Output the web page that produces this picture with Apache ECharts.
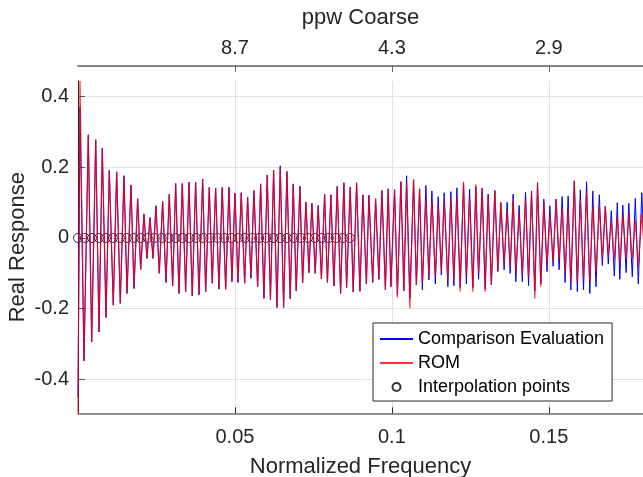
<!DOCTYPE html>
<html>
<head>
<meta charset="utf-8">
<script src="https://cdn.jsdelivr.net/npm/echarts@6/dist/echarts.min.js"></script>
<style>html,body{margin:0;padding:0;background:#fff;}#c{width:643px;height:477px;}</style>
</head>
<body>
<div id="c"></div>
<script>
// Frequencies of the extremes (peaks / troughs)
const freq = [0,0.00064,0.00191,0.00328,0.00436,0.00564,0.00669,0.00774,0.00892,0.00997,
0.01124,0.01232,0.01347,0.01465,0.01561,0.01688,0.01783,0.01901,0.01997,0.02102,
0.02197,0.02293,0.02389,0.02484,0.02589,0.02697,0.02803,0.02908,0.03016,0.03111,
0.03217,0.03322,0.03430,0.03535,0.03640,0.03748,0.03854,0.03971,0.04067,0.04182,
0.04277,0.04385,0.04490,0.04595,0.04704,0.04809,0.04904,0.05000,0.05096,0.05201,
0.05309,0.05404,0.05510,0.05605,0.05723,0.05818,0.05924,0.06029,0.06131,0.06232,
0.06338,0.06443,0.06551,0.06656,0.06761,0.06857,0.06952,0.07070,0.07156,0.07261,
0.07357,0.07452,0.07557,0.07653,0.07755,0.07857,0.07946,0.08057,0.08153,0.08258,
0.08366,0.08471,0.08557,0.08672,0.08768,0.08876,0.08981,0.09076,0.09188,0.09268,
0.09389,0.09481,0.09586,0.09682,0.09793,0.09882,0.09968,0.10086,0.10175,0.10287,
0.10382,0.10468,0.10573,0.10691,0.10780,0.10882,0.10971,0.11083,0.11178,0.11274,
0.11385,0.11475,0.11576,0.11666,0.11783,0.11879,0.11975,0.12070,0.12175,0.12283,
0.12373,0.12475,0.12580,0.12675,0.12761,0.12876,0.12971,0.13067,0.13169,0.13280,
0.13376,0.13471,0.13576,0.13672,0.13768,0.13863,0.13949,0.14054,0.14156,0.14258,
0.14354,0.14449,0.14554,0.14640,0.14745,0.14841,0.14943,0.15032,0.15137,0.15232,
0.15328,0.15424,0.15519,0.15615,0.15701,0.15812,0.15908,0.16003,0.16105,0.16201,
0.16306,0.16401,0.16503,0.16608,0.16704,0.16799,0.16895,0.16990,0.17086,0.17182,
0.17261,0.17357,0.17462,0.17548,0.17659,0.17755,0.17850,0.17962,0.18057];

// Comparison Evaluation (blue)
const comparisonVals = [-0.45,0.37,-0.348,0.292,-0.294,0.278,-0.266,0.254,-0.225,0.191,
-0.19,0.187,-0.185,0.176,-0.157,0.150,-0.143,0.111,-0.089,0.068,
-0.058,0.058,-0.058,0.091,-0.100,0.103,-0.126,0.124,-0.136,0.154,
-0.157,0.154,-0.152,0.158,-0.164,0.158,-0.161,0.167,-0.152,0.143,
-0.128,0.141,-0.145,0.143,-0.145,0.143,-0.124,0.127,-0.126,0.128,
-0.128,0.115,-0.114,0.134,-0.138,0.153,-0.171,0.178,-0.175,0.192,
-0.197,0.204,-0.197,0.188,-0.172,0.153,-0.150,0.146,-0.127,0.101,
-0.098,0.098,-0.100,0.092,-0.116,0.124,-0.126,0.122,-0.136,0.146,
-0.157,0.156,-0.140,0.144,-0.153,0.156,-0.150,0.122,-0.130,0.121,
-0.126,0.111,-0.117,0.134,-0.147,0.139,-0.138,0.137,-0.160,0.158,
-0.150,0.176,-0.170,0.164,-0.133,0.139,-0.147,0.148,-0.119,0.133,
-0.130,0.117,-0.105,0.128,-0.138,0.131,-0.135,0.142,-0.140,0.155,
-0.130,0.138,-0.140,0.145,-0.117,0.141,-0.145,0.124,-0.133,0.134,
-0.095,0.100,-0.090,0.101,-0.100,0.124,-0.124,0.092,-0.124,0.129,
-0.135,0.133,-0.150,0.157,-0.130,0.110,-0.095,0.091,-0.080,0.110,
-0.090,0.117,-0.126,0.119,-0.147,0.162,-0.152,0.136,-0.147,0.159,
-0.157,0.133,-0.138,0.122,-0.078,0.090,-0.074,0.077,-0.108,0.100,
-0.117,0.093,-0.098,0.098,-0.110,0.112,-0.130,0.128,-0.100];

// ROM (red)
const romVals = [-0.496,0.444,-0.348,0.292,-0.294,0.278,-0.266,0.254,-0.225,0.191,
-0.19,0.187,-0.185,0.176,-0.157,0.150,-0.143,0.111,-0.089,0.068,
-0.058,0.058,-0.058,0.091,-0.100,0.103,-0.126,0.124,-0.136,0.154,
-0.157,0.154,-0.152,0.158,-0.164,0.158,-0.161,0.167,-0.152,0.143,
-0.128,0.141,-0.145,0.143,-0.145,0.143,-0.124,0.127,-0.126,0.128,
-0.128,0.115,-0.114,0.134,-0.138,0.153,-0.171,0.178,-0.175,0.192,
-0.197,0.200,-0.197,0.188,-0.172,0.150,-0.150,0.146,-0.127,0.101,
-0.098,0.098,-0.100,0.092,-0.116,0.124,-0.126,0.122,-0.136,0.146,
-0.157,0.156,-0.140,0.144,-0.153,0.156,-0.152,0.122,-0.130,0.121,
-0.126,0.111,-0.117,0.134,-0.147,0.139,-0.138,0.137,-0.168,0.161,
-0.150,0.155,-0.199,0.166,-0.133,0.139,-0.128,0.105,-0.110,0.104,
-0.110,0.090,-0.090,0.110,-0.120,0.113,-0.120,0.118,-0.152,0.160,
-0.110,0.113,-0.152,0.152,-0.100,0.141,-0.152,0.120,-0.133,0.134,
-0.095,0.100,-0.070,0.079,-0.080,0.109,-0.095,0.070,-0.100,0.110,
-0.110,0.128,-0.171,0.151,-0.138,0.100,-0.075,0.065,-0.065,0.110,
-0.060,0.085,-0.100,0.084,-0.125,0.161,-0.125,0.110,-0.116,0.130,
-0.125,0.090,-0.095,0.090,-0.058,0.088,-0.045,0.046,-0.060,0.060,
-0.070,0.065,-0.060,0.070,-0.060,0.050,-0.080,0.070,-0.050];

// Interpolation points (frequency, all at response 0)
const interpFreq = [0,0.00222,0.00444,0.00666,0.00888,0.0111,0.01332,0.01554,0.01776,0.01998,
0.0222,0.02442,0.02664,0.02886,0.03108,0.0333,0.03552,0.03774,0.03996,0.04218,
0.0444,0.04662,0.04884,0.05106,0.05328,0.0555,0.05772,0.05994,0.06216,0.06438,
0.0666,0.06882,0.07104,0.07326,0.07548,0.0777,0.07992,0.08214,0.08436,0.08658];
const interpVals = interpFreq.map(() => 0);

const xTicks = [0.05, 0.1, 0.15];
const ppwLabels = ['8.7', '4.3', '2.9'];
const yTicks = [-0.4, -0.2, 0, 0.2, 0.4];

const FONT = "'Liberation Sans', Arial, Helvetica, sans-serif";
const TXT = '#262626';

const chart = echarts.init(document.getElementById('c'), null, {renderer: 'canvas'});
chart.setOption({
  animation: false,
  backgroundColor: '#fff',
  textStyle: {fontFamily: FONT},
  grid: {left: 78, right: 0, top: 81, bottom: 63.7, containLabel: false, outerBoundsMode: 'none'},
  legend: {
    orient: 'vertical', left: 373, top: 323,
    backgroundColor: '#fff', borderColor: '#262626', borderWidth: 1, borderRadius: 0,
    padding: [7, 8, 5, 6], itemWidth: 33, itemHeight: 8, itemGap: 6,
    textStyle: {fontFamily: FONT, fontSize: 18, color: '#000', lineHeight: 18},
    selectedMode: false,
    data: [
      {name: 'Comparison Evaluation', itemStyle: {opacity: 0}},
      {name: 'ROM', itemStyle: {opacity: 0}},
      {name: 'Interpolation points'}
    ]
  },
  xAxis: [{
    type: 'value', position: 'bottom', min: 0, max: 0.18,
    axisLine: {show: true, onZero: false, lineStyle: {color: '#6e6e6e', width: 1.5}},
    axisTick: {show: true, inside: true, length: 6, customValues: xTicks, lineStyle: {color: TXT}},
    axisLabel: {customValues: xTicks, margin: 14, fontSize: 20, color: TXT, fontFamily: FONT},
    splitLine: {show: true, customValues: xTicks, lineStyle: {color: '#e3e3e3', width: 1}},
    name: 'Normalized Frequency', nameLocation: 'middle', nameGap: 43,
    nameTextStyle: {fontSize: 22, color: TXT, fontFamily: FONT}
  }, {
    type: 'value', position: 'top', offset: 15, min: 0, max: 0.18,
    axisLine: {show: true, onZero: false, lineStyle: {color: '#858585', width: 2}},
    axisTick: {show: true, inside: true, length: 6, customValues: xTicks, lineStyle: {color: '#666'}},
    axisLabel: {customValues: xTicks, margin: 8, fontSize: 20, color: TXT, fontFamily: FONT,
      formatter: v => { const i = xTicks.findIndex(t => Math.abs(t - v) < 1e-9); return i >= 0 ? ppwLabels[i] : ''; }},
    splitLine: {show: false},
    name: 'ppw Coarse', nameLocation: 'middle', nameGap: 37,
    nameTextStyle: {fontSize: 22, color: TXT, fontFamily: FONT}
  }],
  yAxis: {
    type: 'value', min: -0.496, max: 0.444,
    axisLine: {show: true, onZero: false, lineStyle: {color: TXT, width: 1}},
    axisTick: {show: true, inside: true, length: 7, customValues: yTicks, lineStyle: {color: '#555'}},
    axisLabel: {customValues: yTicks, margin: 9, fontSize: 20, color: TXT, fontFamily: FONT},
    splitLine: {show: true, customValues: yTicks, lineStyle: {color: '#e3e3e3', width: 1}},
    name: 'Real Response', nameLocation: 'middle', nameGap: 49, nameMoveOverlap: false,
    nameTextStyle: {fontSize: 22, color: TXT, fontFamily: FONT}
  },
  series: [{
    name: 'Comparison Evaluation', type: 'line', xAxisIndex: 0,
    data: freq.map((f, i) => [f, comparisonVals[i]]),
    symbol: 'none', silent: true,
    lineStyle: {color: '#0000ff', width: 1}, itemStyle: {color: '#0000ff'}
  }, {
    name: 'ROM', type: 'line', xAxisIndex: 0,
    data: freq.map((f, i) => [f, romVals[i]]),
    symbol: 'none', silent: true,
    lineStyle: {color: '#ff0000', width: 1.2, opacity: 0.8}, itemStyle: {color: '#ff0000', opacity: 0.8}
  }, {
    name: 'Interpolation points', type: 'scatter', xAxisIndex: 0,
    data: interpFreq.map((f, i) => [f, interpVals[i]]),
    symbol: 'circle', symbolSize: 9, silent: true,
    itemStyle: {color: 'rgba(0,0,0,0)', borderColor: '#000', borderWidth: 1}
  }]
});
</script>
</body>
</html>
